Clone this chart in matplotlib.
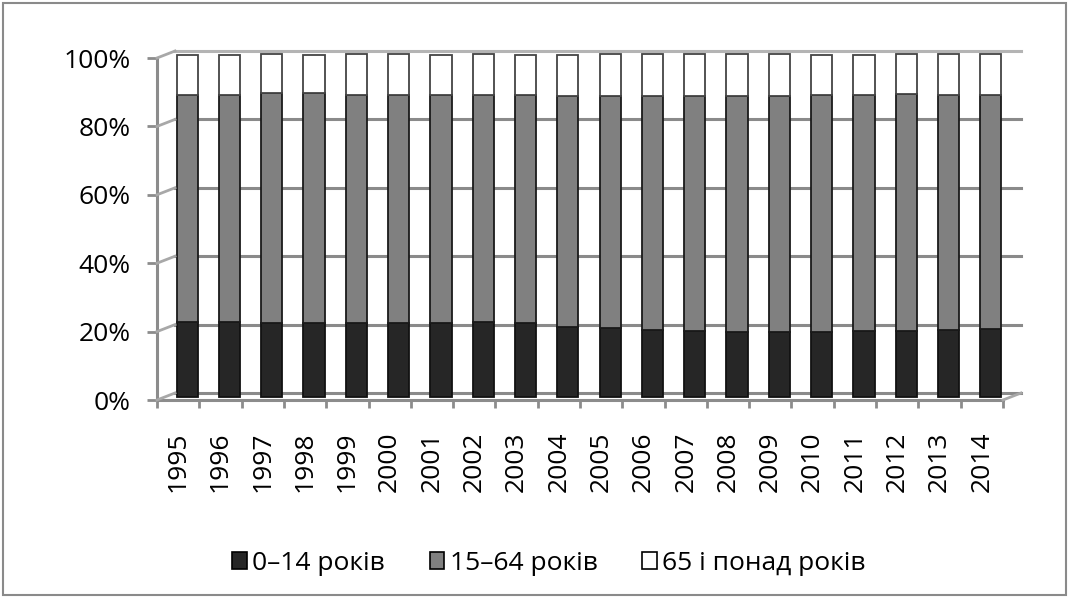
import matplotlib
matplotlib.use("Agg")
import matplotlib.pyplot as plt
import numpy as np
from matplotlib.transforms import ScaledTranslation, IdentityTransform
from matplotlib.patches import Patch, Rectangle
from matplotlib.lines import Line2D

years = ["1995", "1996", "1997", "1998", "1999", "2000", "2001", "2002", "2003", "2004",
         "2005", "2006", "2007", "2008", "2009", "2010", "2011", "2012", "2013", "2014"]
# share of population, %
age_0_14 = [21.8, 21.8, 21.6, 21.4, 21.4, 21.4, 21.5, 21.7, 21.4, 20.3,
            20.1, 19.5, 19.2, 19.0, 19.0, 19.0, 19.2, 19.2, 19.4, 19.7]
age_15_64 = [66.3, 66.5, 67.0, 67.3, 66.9, 66.9, 66.6, 66.4, 66.7, 67.6,
             67.7, 68.3, 68.6, 68.8, 68.8, 69.1, 69.1, 69.3, 68.9, 68.4]
age_65 = [11.9, 11.7, 11.4, 11.3, 11.7, 11.7, 11.9, 11.9, 11.9, 12.1,
          12.2, 12.2, 12.2, 12.2, 12.2, 11.9, 11.7, 11.5, 11.7, 11.9]
labels = ["0–14 років", "15–64 років", "65 і понад років"]
colors = ["#262626", "#808080", "#ffffff"]
yticks = [0, 20, 40, 60, 80, 100]

plt.rcParams["font.family"] = ["Open Sans", "DejaVu Sans"]
fs = 19

fig = plt.figure(figsize=(10.69, 5.98), dpi=100)
ax = fig.add_axes([157/1069, 198/598, 846/1069, 342/598])
ax.set_xlim(-0.5, len(years) - 0.5)
ax.set_ylim(0, 100)

back = ax.transData + ScaledTranslation(18/100, 7/100, fig.dpi_scale_trans)
mid = ax.transData + ScaledTranslation(9/100, 3.5/100, fig.dpi_scale_trans)

x = np.arange(len(years))
gcol = "#8c8c8c"

# back wall grid
for v in yticks:
    c = "#b4b4b4" if v == 100 else "#8a8a8a"
    ax.plot([-0.5, len(years) - 0.5], [v, v], color=c, lw=2.2, transform=back,
            clip_on=False, zorder=1)

# bars
a = np.array(age_0_14)
b = np.array(age_15_64)
c3 = np.array(age_65)
ax.bar(x, a, width=0.5, color=colors[0], edgecolor="#111111", lw=1.3,
       transform=mid, zorder=3, clip_on=False)
ax.bar(x, b, width=0.5, bottom=a, color=colors[1], edgecolor="#1a1a1a", lw=1.3,
       transform=mid, zorder=3, clip_on=False)
ax.bar(x, c3, width=0.5, bottom=a + b, color=colors[2], edgecolor="#444444", lw=1.3,
       transform=mid, zorder=3, clip_on=False)

# spines / ticks
for s in ["top", "right"]:
    ax.spines[s].set_visible(False)
for s in ["left", "bottom"]:
    ax.spines[s].set_color(gcol)
    ax.spines[s].set_linewidth(2.2)

ax.set_yticks(yticks)
ax.set_yticklabels([f"{v}%" for v in yticks], fontsize=fs)
ax.tick_params(axis="y", length=7, width=2, color=gcol, pad=12)

ax.set_xticks(x)
ax.set_xticklabels(years, rotation=90, fontsize=fs)
ax.tick_params(axis="x", which="major", length=0, pad=23)
ax.set_xticks(np.arange(len(years) + 1) - 0.5, minor=True)
ax.tick_params(axis="x", which="minor", length=6, width=2, color=gcol)

# diagonal edges of the 3D box
fig.canvas.draw()
for v in yticks:
    p = ax.transData.transform((-0.5, v))
    fig.add_artist(Line2D([p[0], p[0] + 18], [p[1], p[1] + 7], color="#a8a8a8", lw=2,
                          transform=IdentityTransform()))
p = ax.transData.transform((len(years) - 0.5, 0))
fig.add_artist(Line2D([p[0], p[0] + 18], [p[1], p[1] + 7], color="#a8a8a8", lw=2,
                      transform=IdentityTransform()))

# legend
handles = [Patch(facecolor=col, edgecolor="black", lw=1.2) for col in colors]
fig.legend(handles, labels, loc="center", bbox_to_anchor=(549/1069, 35/598), ncol=3,
           frameon=False, fontsize=fs, handlelength=0.55, handleheight=0.6,
           handletextpad=0.2, columnspacing=1.7)

# chart border
fig.add_artist(Rectangle((0.003, 0.005), 0.994, 0.99, transform=fig.transFigure,
                         fill=False, edgecolor="#8a8a8a", lw=1.5))

fig.savefig("out.png", dpi=100)
